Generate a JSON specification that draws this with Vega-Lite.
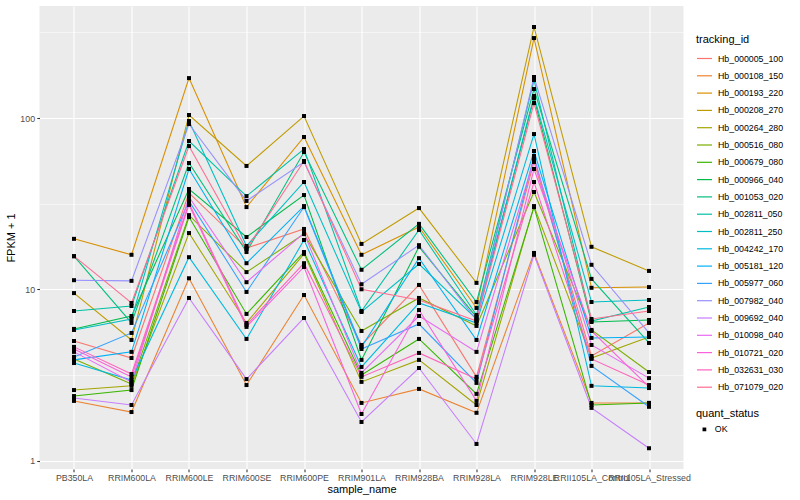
{
  "$schema": "https://vega.github.io/schema/vega-lite/v6.json",
  "width": 644,
  "height": 463,
  "autosize": "none",
  "padding": {"left": 39.5, "top": 6, "right": 116.5, "bottom": 31},
  "background": "#FFFFFF",
  "config": {
    "view": {"fill": "#EBEBEB", "stroke": null},
    "font": "Liberation Sans",
    "axis": {"domain": false, "grid": true, "gridColor": "#FFFFFF", "gridWidth": 1.07, "tickColor": "#333333", "tickSize": 2.75, "tickWidth": 1.07, "labelColor": "#4D4D4D", "labelFontSize": 8.8, "labelPadding": 2.2, "titleFontSize": 11, "titleFontWeight": "normal", "titleColor": "#000000", "labelFont": "Liberation Sans", "titleFont": "Liberation Sans"},
    "legend": {"labelFont": "Liberation Sans", "titleFont": "Liberation Sans", "labelFontSize": 8.8, "labelColor": "#000000", "titleFontSize": 11, "titleFontWeight": "normal", "titleColor": "#000000", "padding": 0}
  },
  "data": {"values": [
    {"tracking_id":"Hb_000005_100","sample_name":"PB350LA","fpkm":4.99,"quant_status":"OK"},
    {"tracking_id":"Hb_000005_100","sample_name":"RRIM600LA","fpkm":3.97,"quant_status":"OK"},
    {"tracking_id":"Hb_000005_100","sample_name":"RRIM600LE","fpkm":36.5,"quant_status":"OK"},
    {"tracking_id":"Hb_000005_100","sample_name":"RRIM600SE","fpkm":17.4,"quant_status":"OK"},
    {"tracking_id":"Hb_000005_100","sample_name":"RRIM600PE","fpkm":22.5,"quant_status":"OK"},
    {"tracking_id":"Hb_000005_100","sample_name":"RRIM901LA","fpkm":4.73,"quant_status":"OK"},
    {"tracking_id":"Hb_000005_100","sample_name":"RRIM928BA","fpkm":10.6,"quant_status":"OK"},
    {"tracking_id":"Hb_000005_100","sample_name":"RRIM928LA","fpkm":3.08,"quant_status":"OK"},
    {"tracking_id":"Hb_000005_100","sample_name":"RRIM928LE","fpkm":55.4,"quant_status":"OK"},
    {"tracking_id":"Hb_000005_100","sample_name":"RRII105LA_Control","fpkm":4.08,"quant_status":"OK"},
    {"tracking_id":"Hb_000005_100","sample_name":"RRII105LA_Stressed","fpkm":6.36,"quant_status":"OK"},
    {"tracking_id":"Hb_000108_150","sample_name":"PB350LA","fpkm":2.23,"quant_status":"OK"},
    {"tracking_id":"Hb_000108_150","sample_name":"RRIM600LA","fpkm":1.92,"quant_status":"OK"},
    {"tracking_id":"Hb_000108_150","sample_name":"RRIM600LE","fpkm":11.6,"quant_status":"OK"},
    {"tracking_id":"Hb_000108_150","sample_name":"RRIM600SE","fpkm":2.76,"quant_status":"OK"},
    {"tracking_id":"Hb_000108_150","sample_name":"RRIM600PE","fpkm":9.26,"quant_status":"OK"},
    {"tracking_id":"Hb_000108_150","sample_name":"RRIM901LA","fpkm":2.17,"quant_status":"OK"},
    {"tracking_id":"Hb_000108_150","sample_name":"RRIM928BA","fpkm":2.62,"quant_status":"OK"},
    {"tracking_id":"Hb_000108_150","sample_name":"RRIM928LA","fpkm":1.90,"quant_status":"OK"},
    {"tracking_id":"Hb_000108_150","sample_name":"RRIM928LE","fpkm":16.3,"quant_status":"OK"},
    {"tracking_id":"Hb_000108_150","sample_name":"RRII105LA_Control","fpkm":2.17,"quant_status":"OK"},
    {"tracking_id":"Hb_000108_150","sample_name":"RRII105LA_Stressed","fpkm":2.17,"quant_status":"OK"},
    {"tracking_id":"Hb_000193_220","sample_name":"PB350LA","fpkm":19.7,"quant_status":"OK"},
    {"tracking_id":"Hb_000193_220","sample_name":"RRIM600LA","fpkm":15.9,"quant_status":"OK"},
    {"tracking_id":"Hb_000193_220","sample_name":"RRIM600LE","fpkm":171,"quant_status":"OK"},
    {"tracking_id":"Hb_000193_220","sample_name":"RRIM600SE","fpkm":30.2,"quant_status":"OK"},
    {"tracking_id":"Hb_000193_220","sample_name":"RRIM600PE","fpkm":77.5,"quant_status":"OK"},
    {"tracking_id":"Hb_000193_220","sample_name":"RRIM901LA","fpkm":15.9,"quant_status":"OK"},
    {"tracking_id":"Hb_000193_220","sample_name":"RRIM928BA","fpkm":23.1,"quant_status":"OK"},
    {"tracking_id":"Hb_000193_220","sample_name":"RRIM928LA","fpkm":7.78,"quant_status":"OK"},
    {"tracking_id":"Hb_000193_220","sample_name":"RRIM928LE","fpkm":293,"quant_status":"OK"},
    {"tracking_id":"Hb_000193_220","sample_name":"RRII105LA_Control","fpkm":10.2,"quant_status":"OK"},
    {"tracking_id":"Hb_000193_220","sample_name":"RRII105LA_Stressed","fpkm":10.3,"quant_status":"OK"},
    {"tracking_id":"Hb_000208_270","sample_name":"PB350LA","fpkm":9.5,"quant_status":"OK"},
    {"tracking_id":"Hb_000208_270","sample_name":"RRIM600LA","fpkm":5.06,"quant_status":"OK"},
    {"tracking_id":"Hb_000208_270","sample_name":"RRIM600LE","fpkm":104.1,"quant_status":"OK"},
    {"tracking_id":"Hb_000208_270","sample_name":"RRIM600SE","fpkm":52.5,"quant_status":"OK"},
    {"tracking_id":"Hb_000208_270","sample_name":"RRIM600PE","fpkm":102.7,"quant_status":"OK"},
    {"tracking_id":"Hb_000208_270","sample_name":"RRIM901LA","fpkm":18.4,"quant_status":"OK"},
    {"tracking_id":"Hb_000208_270","sample_name":"RRIM928BA","fpkm":29.8,"quant_status":"OK"},
    {"tracking_id":"Hb_000208_270","sample_name":"RRIM928LA","fpkm":10.9,"quant_status":"OK"},
    {"tracking_id":"Hb_000208_270","sample_name":"RRIM928LE","fpkm":340,"quant_status":"OK"},
    {"tracking_id":"Hb_000208_270","sample_name":"RRII105LA_Control","fpkm":17.7,"quant_status":"OK"},
    {"tracking_id":"Hb_000208_270","sample_name":"RRII105LA_Stressed","fpkm":12.8,"quant_status":"OK"},
    {"tracking_id":"Hb_000264_280","sample_name":"PB350LA","fpkm":2.58,"quant_status":"OK"},
    {"tracking_id":"Hb_000264_280","sample_name":"RRIM600LA","fpkm":2.73,"quant_status":"OK"},
    {"tracking_id":"Hb_000264_280","sample_name":"RRIM600LE","fpkm":21.3,"quant_status":"OK"},
    {"tracking_id":"Hb_000264_280","sample_name":"RRIM600SE","fpkm":6.36,"quant_status":"OK"},
    {"tracking_id":"Hb_000264_280","sample_name":"RRIM600PE","fpkm":16.1,"quant_status":"OK"},
    {"tracking_id":"Hb_000264_280","sample_name":"RRIM901LA","fpkm":2.88,"quant_status":"OK"},
    {"tracking_id":"Hb_000264_280","sample_name":"RRIM928BA","fpkm":3.87,"quant_status":"OK"},
    {"tracking_id":"Hb_000264_280","sample_name":"RRIM928LA","fpkm":2.11,"quant_status":"OK"},
    {"tracking_id":"Hb_000264_280","sample_name":"RRIM928LE","fpkm":30.6,"quant_status":"OK"},
    {"tracking_id":"Hb_000264_280","sample_name":"RRII105LA_Control","fpkm":3.97,"quant_status":"OK"},
    {"tracking_id":"Hb_000264_280","sample_name":"RRII105LA_Stressed","fpkm":5.27,"quant_status":"OK"},
    {"tracking_id":"Hb_000516_080","sample_name":"PB350LA","fpkm":3.92,"quant_status":"OK"},
    {"tracking_id":"Hb_000516_080","sample_name":"RRIM600LA","fpkm":2.80,"quant_status":"OK"},
    {"tracking_id":"Hb_000516_080","sample_name":"RRIM600LE","fpkm":27.1,"quant_status":"OK"},
    {"tracking_id":"Hb_000516_080","sample_name":"RRIM600SE","fpkm":12.6,"quant_status":"OK"},
    {"tracking_id":"Hb_000516_080","sample_name":"RRIM600PE","fpkm":21.0,"quant_status":"OK"},
    {"tracking_id":"Hb_000516_080","sample_name":"RRIM901LA","fpkm":5.71,"quant_status":"OK"},
    {"tracking_id":"Hb_000516_080","sample_name":"RRIM928BA","fpkm":8.9,"quant_status":"OK"},
    {"tracking_id":"Hb_000516_080","sample_name":"RRIM928LA","fpkm":6.11,"quant_status":"OK"},
    {"tracking_id":"Hb_000516_080","sample_name":"RRIM928LE","fpkm":37.0,"quant_status":"OK"},
    {"tracking_id":"Hb_000516_080","sample_name":"RRII105LA_Control","fpkm":5.79,"quant_status":"OK"},
    {"tracking_id":"Hb_000516_080","sample_name":"RRII105LA_Stressed","fpkm":3.29,"quant_status":"OK"},
    {"tracking_id":"Hb_000679_080","sample_name":"PB350LA","fpkm":2.38,"quant_status":"OK"},
    {"tracking_id":"Hb_000679_080","sample_name":"RRIM600LA","fpkm":2.58,"quant_status":"OK"},
    {"tracking_id":"Hb_000679_080","sample_name":"RRIM600LE","fpkm":26.4,"quant_status":"OK"},
    {"tracking_id":"Hb_000679_080","sample_name":"RRIM600SE","fpkm":7.18,"quant_status":"OK"},
    {"tracking_id":"Hb_000679_080","sample_name":"RRIM600PE","fpkm":16.5,"quant_status":"OK"},
    {"tracking_id":"Hb_000679_080","sample_name":"RRIM901LA","fpkm":3.16,"quant_status":"OK"},
    {"tracking_id":"Hb_000679_080","sample_name":"RRIM928BA","fpkm":5.13,"quant_status":"OK"},
    {"tracking_id":"Hb_000679_080","sample_name":"RRIM928LA","fpkm":2.45,"quant_status":"OK"},
    {"tracking_id":"Hb_000679_080","sample_name":"RRIM928LE","fpkm":30.2,"quant_status":"OK"},
    {"tracking_id":"Hb_000679_080","sample_name":"RRII105LA_Control","fpkm":2.11,"quant_status":"OK"},
    {"tracking_id":"Hb_000679_080","sample_name":"RRII105LA_Stressed","fpkm":2.17,"quant_status":"OK"},
    {"tracking_id":"Hb_000966_040","sample_name":"PB350LA","fpkm":5.87,"quant_status":"OK"},
    {"tracking_id":"Hb_000966_040","sample_name":"RRIM600LA","fpkm":6.98,"quant_status":"OK"},
    {"tracking_id":"Hb_000966_040","sample_name":"RRIM600LE","fpkm":38.5,"quant_status":"OK"},
    {"tracking_id":"Hb_000966_040","sample_name":"RRIM600SE","fpkm":20.2,"quant_status":"OK"},
    {"tracking_id":"Hb_000966_040","sample_name":"RRIM600PE","fpkm":35.5,"quant_status":"OK"},
    {"tracking_id":"Hb_000966_040","sample_name":"RRIM901LA","fpkm":3.87,"quant_status":"OK"},
    {"tracking_id":"Hb_000966_040","sample_name":"RRIM928BA","fpkm":17.7,"quant_status":"OK"},
    {"tracking_id":"Hb_000966_040","sample_name":"RRIM928LA","fpkm":6.89,"quant_status":"OK"},
    {"tracking_id":"Hb_000966_040","sample_name":"RRIM928LE","fpkm":130.8,"quant_status":"OK"},
    {"tracking_id":"Hb_000966_040","sample_name":"RRII105LA_Control","fpkm":6.44,"quant_status":"OK"},
    {"tracking_id":"Hb_000966_040","sample_name":"RRII105LA_Stressed","fpkm":6.62,"quant_status":"OK"},
    {"tracking_id":"Hb_001053_020","sample_name":"PB350LA","fpkm":15.6,"quant_status":"OK"},
    {"tracking_id":"Hb_001053_020","sample_name":"RRIM600LA","fpkm":6.36,"quant_status":"OK"},
    {"tracking_id":"Hb_001053_020","sample_name":"RRIM600LE","fpkm":54.6,"quant_status":"OK"},
    {"tracking_id":"Hb_001053_020","sample_name":"RRIM600SE","fpkm":16.5,"quant_status":"OK"},
    {"tracking_id":"Hb_001053_020","sample_name":"RRIM600PE","fpkm":63.3,"quant_status":"OK"},
    {"tracking_id":"Hb_001053_020","sample_name":"RRIM901LA","fpkm":13.0,"quant_status":"OK"},
    {"tracking_id":"Hb_001053_020","sample_name":"RRIM928BA","fpkm":24.1,"quant_status":"OK"},
    {"tracking_id":"Hb_001053_020","sample_name":"RRIM928LA","fpkm":8.43,"quant_status":"OK"},
    {"tracking_id":"Hb_001053_020","sample_name":"RRIM928LE","fpkm":147.7,"quant_status":"OK"},
    {"tracking_id":"Hb_001053_020","sample_name":"RRII105LA_Control","fpkm":11.5,"quant_status":"OK"},
    {"tracking_id":"Hb_001053_020","sample_name":"RRII105LA_Stressed","fpkm":4.86,"quant_status":"OK"},
    {"tracking_id":"Hb_002811_050","sample_name":"PB350LA","fpkm":7.47,"quant_status":"OK"},
    {"tracking_id":"Hb_002811_050","sample_name":"RRIM600LA","fpkm":7.99,"quant_status":"OK"},
    {"tracking_id":"Hb_002811_050","sample_name":"RRIM600LE","fpkm":73.4,"quant_status":"OK"},
    {"tracking_id":"Hb_002811_050","sample_name":"RRIM600SE","fpkm":35.0,"quant_status":"OK"},
    {"tracking_id":"Hb_002811_050","sample_name":"RRIM600PE","fpkm":65.9,"quant_status":"OK"},
    {"tracking_id":"Hb_002811_050","sample_name":"RRIM901LA","fpkm":7.47,"quant_status":"OK"},
    {"tracking_id":"Hb_002811_050","sample_name":"RRIM928BA","fpkm":22.2,"quant_status":"OK"},
    {"tracking_id":"Hb_002811_050","sample_name":"RRIM928LA","fpkm":7.08,"quant_status":"OK"},
    {"tracking_id":"Hb_002811_050","sample_name":"RRIM928LE","fpkm":166.7,"quant_status":"OK"},
    {"tracking_id":"Hb_002811_050","sample_name":"RRII105LA_Control","fpkm":6.53,"quant_status":"OK"},
    {"tracking_id":"Hb_002811_050","sample_name":"RRII105LA_Stressed","fpkm":7.88,"quant_status":"OK"},
    {"tracking_id":"Hb_002811_250","sample_name":"PB350LA","fpkm":5.79,"quant_status":"OK"},
    {"tracking_id":"Hb_002811_250","sample_name":"RRIM600LA","fpkm":6.71,"quant_status":"OK"},
    {"tracking_id":"Hb_002811_250","sample_name":"RRIM600LE","fpkm":96.0,"quant_status":"OK"},
    {"tracking_id":"Hb_002811_250","sample_name":"RRIM600SE","fpkm":17.9,"quant_status":"OK"},
    {"tracking_id":"Hb_002811_250","sample_name":"RRIM600PE","fpkm":42.3,"quant_status":"OK"},
    {"tracking_id":"Hb_002811_250","sample_name":"RRIM901LA","fpkm":7.37,"quant_status":"OK"},
    {"tracking_id":"Hb_002811_250","sample_name":"RRIM928BA","fpkm":14.05,"quant_status":"OK"},
    {"tracking_id":"Hb_002811_250","sample_name":"RRIM928LA","fpkm":6.71,"quant_status":"OK"},
    {"tracking_id":"Hb_002811_250","sample_name":"RRIM928LE","fpkm":134.4,"quant_status":"OK"},
    {"tracking_id":"Hb_002811_250","sample_name":"RRII105LA_Control","fpkm":8.43,"quant_status":"OK"},
    {"tracking_id":"Hb_002811_250","sample_name":"RRII105LA_Stressed","fpkm":8.66,"quant_status":"OK"},
    {"tracking_id":"Hb_004242_170","sample_name":"PB350LA","fpkm":3.71,"quant_status":"OK"},
    {"tracking_id":"Hb_004242_170","sample_name":"RRIM600LA","fpkm":2.95,"quant_status":"OK"},
    {"tracking_id":"Hb_004242_170","sample_name":"RRIM600LE","fpkm":15.4,"quant_status":"OK"},
    {"tracking_id":"Hb_004242_170","sample_name":"RRIM600SE","fpkm":5.13,"quant_status":"OK"},
    {"tracking_id":"Hb_004242_170","sample_name":"RRIM600PE","fpkm":19.4,"quant_status":"OK"},
    {"tracking_id":"Hb_004242_170","sample_name":"RRIM901LA","fpkm":3.52,"quant_status":"OK"},
    {"tracking_id":"Hb_004242_170","sample_name":"RRIM928BA","fpkm":8.32,"quant_status":"OK"},
    {"tracking_id":"Hb_004242_170","sample_name":"RRIM928LA","fpkm":6.36,"quant_status":"OK"},
    {"tracking_id":"Hb_004242_170","sample_name":"RRIM928LE","fpkm":80.6,"quant_status":"OK"},
    {"tracking_id":"Hb_004242_170","sample_name":"RRII105LA_Control","fpkm":2.73,"quant_status":"OK"},
    {"tracking_id":"Hb_004242_170","sample_name":"RRII105LA_Stressed","fpkm":2.65,"quant_status":"OK"},
    {"tracking_id":"Hb_005181_120","sample_name":"PB350LA","fpkm":3.87,"quant_status":"OK"},
    {"tracking_id":"Hb_005181_120","sample_name":"RRIM600LA","fpkm":4.31,"quant_status":"OK"},
    {"tracking_id":"Hb_005181_120","sample_name":"RRIM600LE","fpkm":50.4,"quant_status":"OK"},
    {"tracking_id":"Hb_005181_120","sample_name":"RRIM600SE","fpkm":14.2,"quant_status":"OK"},
    {"tracking_id":"Hb_005181_120","sample_name":"RRIM600PE","fpkm":30.6,"quant_status":"OK"},
    {"tracking_id":"Hb_005181_120","sample_name":"RRIM901LA","fpkm":4.61,"quant_status":"OK"},
    {"tracking_id":"Hb_005181_120","sample_name":"RRIM928BA","fpkm":15.2,"quant_status":"OK"},
    {"tracking_id":"Hb_005181_120","sample_name":"RRIM928LA","fpkm":5.06,"quant_status":"OK"},
    {"tracking_id":"Hb_005181_120","sample_name":"RRIM928LE","fpkm":64.2,"quant_status":"OK"},
    {"tracking_id":"Hb_005181_120","sample_name":"RRII105LA_Control","fpkm":5.20,"quant_status":"OK"},
    {"tracking_id":"Hb_005181_120","sample_name":"RRII105LA_Stressed","fpkm":5.27,"quant_status":"OK"},
    {"tracking_id":"Hb_005977_060","sample_name":"PB350LA","fpkm":4.03,"quant_status":"OK"},
    {"tracking_id":"Hb_005977_060","sample_name":"RRIM600LA","fpkm":5.56,"quant_status":"OK"},
    {"tracking_id":"Hb_005977_060","sample_name":"RRIM600LE","fpkm":32.8,"quant_status":"OK"},
    {"tracking_id":"Hb_005977_060","sample_name":"RRIM600SE","fpkm":9.65,"quant_status":"OK"},
    {"tracking_id":"Hb_005977_060","sample_name":"RRIM600PE","fpkm":30.2,"quant_status":"OK"},
    {"tracking_id":"Hb_005977_060","sample_name":"RRIM901LA","fpkm":4.48,"quant_status":"OK"},
    {"tracking_id":"Hb_005977_060","sample_name":"RRIM928BA","fpkm":6.27,"quant_status":"OK"},
    {"tracking_id":"Hb_005977_060","sample_name":"RRIM928LA","fpkm":2.84,"quant_status":"OK"},
    {"tracking_id":"Hb_005977_060","sample_name":"RRIM928LE","fpkm":60.0,"quant_status":"OK"},
    {"tracking_id":"Hb_005977_060","sample_name":"RRII105LA_Control","fpkm":3.57,"quant_status":"OK"},
    {"tracking_id":"Hb_005977_060","sample_name":"RRII105LA_Stressed","fpkm":2.06,"quant_status":"OK"},
    {"tracking_id":"Hb_007982_040","sample_name":"PB350LA","fpkm":11.3,"quant_status":"OK"},
    {"tracking_id":"Hb_007982_040","sample_name":"RRIM600LA","fpkm":11.2,"quant_status":"OK"},
    {"tracking_id":"Hb_007982_040","sample_name":"RRIM600LE","fpkm":92.2,"quant_status":"OK"},
    {"tracking_id":"Hb_007982_040","sample_name":"RRIM600SE","fpkm":32.8,"quant_status":"OK"},
    {"tracking_id":"Hb_007982_040","sample_name":"RRIM600PE","fpkm":55.4,"quant_status":"OK"},
    {"tracking_id":"Hb_007982_040","sample_name":"RRIM901LA","fpkm":10.7,"quant_status":"OK"},
    {"tracking_id":"Hb_007982_040","sample_name":"RRIM928BA","fpkm":18.1,"quant_status":"OK"},
    {"tracking_id":"Hb_007982_040","sample_name":"RRIM928LA","fpkm":6.62,"quant_status":"OK"},
    {"tracking_id":"Hb_007982_040","sample_name":"RRIM928LE","fpkm":173.5,"quant_status":"OK"},
    {"tracking_id":"Hb_007982_040","sample_name":"RRII105LA_Control","fpkm":13.9,"quant_status":"OK"},
    {"tracking_id":"Hb_007982_040","sample_name":"RRII105LA_Stressed","fpkm":5.56,"quant_status":"OK"},
    {"tracking_id":"Hb_009692_040","sample_name":"PB350LA","fpkm":2.32,"quant_status":"OK"},
    {"tracking_id":"Hb_009692_040","sample_name":"RRIM600LA","fpkm":2.11,"quant_status":"OK"},
    {"tracking_id":"Hb_009692_040","sample_name":"RRIM600LE","fpkm":8.9,"quant_status":"OK"},
    {"tracking_id":"Hb_009692_040","sample_name":"RRIM600SE","fpkm":2.99,"quant_status":"OK"},
    {"tracking_id":"Hb_009692_040","sample_name":"RRIM600PE","fpkm":6.80,"quant_status":"OK"},
    {"tracking_id":"Hb_009692_040","sample_name":"RRIM901LA","fpkm":1.68,"quant_status":"OK"},
    {"tracking_id":"Hb_009692_040","sample_name":"RRIM928BA","fpkm":3.47,"quant_status":"OK"},
    {"tracking_id":"Hb_009692_040","sample_name":"RRIM928LA","fpkm":1.25,"quant_status":"OK"},
    {"tracking_id":"Hb_009692_040","sample_name":"RRIM928LE","fpkm":15.9,"quant_status":"OK"},
    {"tracking_id":"Hb_009692_040","sample_name":"RRII105LA_Control","fpkm":2.03,"quant_status":"OK"},
    {"tracking_id":"Hb_009692_040","sample_name":"RRII105LA_Stressed","fpkm":1.18,"quant_status":"OK"},
    {"tracking_id":"Hb_010098_040","sample_name":"PB350LA","fpkm":4.31,"quant_status":"OK"},
    {"tracking_id":"Hb_010098_040","sample_name":"RRIM600LA","fpkm":2.88,"quant_status":"OK"},
    {"tracking_id":"Hb_010098_040","sample_name":"RRIM600LE","fpkm":34.6,"quant_status":"OK"},
    {"tracking_id":"Hb_010098_040","sample_name":"RRIM600SE","fpkm":11.0,"quant_status":"OK"},
    {"tracking_id":"Hb_010098_040","sample_name":"RRIM600PE","fpkm":21.3,"quant_status":"OK"},
    {"tracking_id":"Hb_010098_040","sample_name":"RRIM901LA","fpkm":3.25,"quant_status":"OK"},
    {"tracking_id":"Hb_010098_040","sample_name":"RRIM928BA","fpkm":6.98,"quant_status":"OK"},
    {"tracking_id":"Hb_010098_040","sample_name":"RRIM928LA","fpkm":4.31,"quant_status":"OK"},
    {"tracking_id":"Hb_010098_040","sample_name":"RRIM928LE","fpkm":57.6,"quant_status":"OK"},
    {"tracking_id":"Hb_010098_040","sample_name":"RRII105LA_Control","fpkm":4.73,"quant_status":"OK"},
    {"tracking_id":"Hb_010098_040","sample_name":"RRII105LA_Stressed","fpkm":3.03,"quant_status":"OK"},
    {"tracking_id":"Hb_010721_020","sample_name":"PB350LA","fpkm":4.48,"quant_status":"OK"},
    {"tracking_id":"Hb_010721_020","sample_name":"RRIM600LA","fpkm":3.08,"quant_status":"OK"},
    {"tracking_id":"Hb_010721_020","sample_name":"RRIM600LE","fpkm":31.1,"quant_status":"OK"},
    {"tracking_id":"Hb_010721_020","sample_name":"RRIM600SE","fpkm":6.03,"quant_status":"OK"},
    {"tracking_id":"Hb_010721_020","sample_name":"RRIM600PE","fpkm":13.5,"quant_status":"OK"},
    {"tracking_id":"Hb_010721_020","sample_name":"RRIM901LA","fpkm":1.87,"quant_status":"OK"},
    {"tracking_id":"Hb_010721_020","sample_name":"RRIM928BA","fpkm":7.57,"quant_status":"OK"},
    {"tracking_id":"Hb_010721_020","sample_name":"RRIM928LA","fpkm":2.23,"quant_status":"OK"},
    {"tracking_id":"Hb_010721_020","sample_name":"RRIM928LE","fpkm":50.4,"quant_status":"OK"},
    {"tracking_id":"Hb_010721_020","sample_name":"RRII105LA_Control","fpkm":5.71,"quant_status":"OK"},
    {"tracking_id":"Hb_010721_020","sample_name":"RRII105LA_Stressed","fpkm":2.69,"quant_status":"OK"},
    {"tracking_id":"Hb_032631_030","sample_name":"PB350LA","fpkm":4.61,"quant_status":"OK"},
    {"tracking_id":"Hb_032631_030","sample_name":"RRIM600LA","fpkm":3.20,"quant_status":"OK"},
    {"tracking_id":"Hb_032631_030","sample_name":"RRIM600LE","fpkm":31.9,"quant_status":"OK"},
    {"tracking_id":"Hb_032631_030","sample_name":"RRIM600SE","fpkm":6.19,"quant_status":"OK"},
    {"tracking_id":"Hb_032631_030","sample_name":"RRIM600PE","fpkm":14.2,"quant_status":"OK"},
    {"tracking_id":"Hb_032631_030","sample_name":"RRIM901LA","fpkm":3.08,"quant_status":"OK"},
    {"tracking_id":"Hb_032631_030","sample_name":"RRIM928BA","fpkm":4.25,"quant_status":"OK"},
    {"tracking_id":"Hb_032631_030","sample_name":"RRIM928LA","fpkm":2.99,"quant_status":"OK"},
    {"tracking_id":"Hb_032631_030","sample_name":"RRIM928LE","fpkm":42.3,"quant_status":"OK"},
    {"tracking_id":"Hb_032631_030","sample_name":"RRII105LA_Control","fpkm":3.92,"quant_status":"OK"},
    {"tracking_id":"Hb_032631_030","sample_name":"RRII105LA_Stressed","fpkm":2.76,"quant_status":"OK"},
    {"tracking_id":"Hb_071079_020","sample_name":"PB350LA","fpkm":15.6,"quant_status":"OK"},
    {"tracking_id":"Hb_071079_020","sample_name":"RRIM600LA","fpkm":8.32,"quant_status":"OK"},
    {"tracking_id":"Hb_071079_020","sample_name":"RRIM600LE","fpkm":68.6,"quant_status":"OK"},
    {"tracking_id":"Hb_071079_020","sample_name":"RRIM600SE","fpkm":17.2,"quant_status":"OK"},
    {"tracking_id":"Hb_071079_020","sample_name":"RRIM600PE","fpkm":56.1,"quant_status":"OK"},
    {"tracking_id":"Hb_071079_020","sample_name":"RRIM901LA","fpkm":10.0,"quant_status":"OK"},
    {"tracking_id":"Hb_071079_020","sample_name":"RRIM928BA","fpkm":8.66,"quant_status":"OK"},
    {"tracking_id":"Hb_071079_020","sample_name":"RRIM928LA","fpkm":6.53,"quant_status":"OK"},
    {"tracking_id":"Hb_071079_020","sample_name":"RRIM928LE","fpkm":122.3,"quant_status":"OK"},
    {"tracking_id":"Hb_071079_020","sample_name":"RRII105LA_Control","fpkm":6.71,"quant_status":"OK"},
    {"tracking_id":"Hb_071079_020","sample_name":"RRII105LA_Stressed","fpkm":7.47,"quant_status":"OK"}
  ]},
  "resolve": {"axis": {"y": "independent"}},
  "layer": [
    {
      "mark": {"type": "line", "strokeWidth": 1.07},
      "encoding": {
        "x": {"field": "sample_name", "type": "nominal",
          "sort": ["PB350LA","RRIM600LA","RRIM600LE","RRIM600SE","RRIM600PE","RRIM901LA","RRIM928BA","RRIM928LA","RRIM928LE","RRII105LA_Control","RRII105LA_Stressed"],
          "scale": {"type": "point", "padding": 0.6},
          "axis": {"title": "sample_name", "labelAngle": 0, "labelOverlap": false, "labelLimit": 0, "titlePadding": 1}},
        "y": {"field": "fpkm", "type": "quantitative",
          "scale": {"type": "log", "domain": [0.8927, 450.8], "nice": false, "zero": false},
          "axis": {"title": "FPKM + 1", "values": [1, 10, 100], "format": "d", "titlePadding": 3, "labelOverlap": false}},
        "color": {"field": "tracking_id", "type": "nominal",
          "scale": {"range": ["#F8766D","#EA8331","#D89000","#C09B00","#A3A500","#7CAE00","#39B600","#00BB4E","#00BF7D","#00C1A3","#00BFC4","#00BAE0","#00B0F6","#35A2FF","#9590FF","#C77CFF","#E76BF3","#FA62DB","#FF62BC","#FF6C91"]},
          "legend": {"orient": "none", "legendX": 656.5, "legendY": 28, "title": "tracking_id", "symbolType": "stroke", "symbolSize": 225, "symbolStrokeWidth": 1.2, "titlePadding": 5, "rowPadding": 3.3, "labelOffset": 5}},
        "order": {"value": null}
      }
    },
    {
      "mark": {"type": "point", "filled": true, "size": 16, "opacity": 1, "color": "#000000"},
      "encoding": {
        "x": {"field": "sample_name", "type": "nominal",
          "sort": ["PB350LA","RRIM600LA","RRIM600LE","RRIM600SE","RRIM600PE","RRIM901LA","RRIM928BA","RRIM928LA","RRIM928LE","RRII105LA_Control","RRII105LA_Stressed"]},
        "y": {"field": "fpkm", "type": "quantitative",
          "axis": {"values": [3.1623, 31.623, 316.23], "grid": true, "gridWidth": 0.53, "labels": false, "ticks": false, "domain": false, "title": null, "orient": "right"}},
        "shape": {"field": "quant_status", "type": "nominal",
          "scale": {"range": ["square"]},
          "legend": {"orient": "none", "legendX": 656.5, "legendY": 402, "title": "quant_status", "symbolFillColor": "#000000", "symbolStrokeColor": "#000000", "symbolSize": 14, "symbolOffset": 4, "titlePadding": 6, "labelOffset": 6}}
      }
    }
  ]
}
